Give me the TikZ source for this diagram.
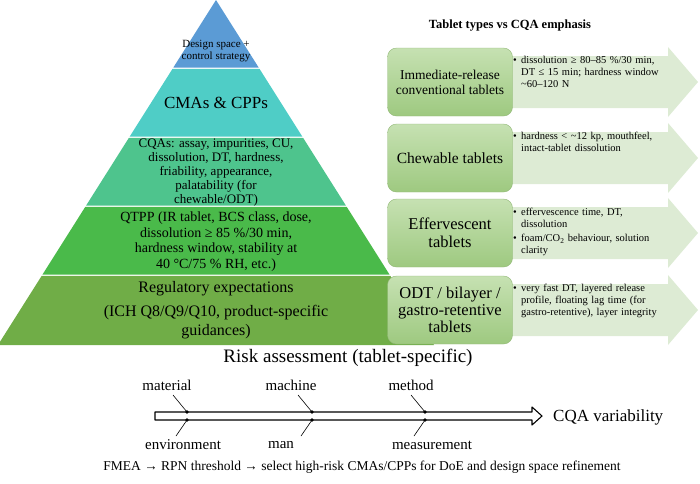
\documentclass[tikz,border=0pt]{standalone}
\usepackage{fontspec}
\setmainfont{Liberation Serif}
\usetikzlibrary{calc}
\definecolor{layA}{RGB}{91,155,213}
\definecolor{layB}{RGB}{79,205,198}
\definecolor{layC}{RGB}{78,196,141}
\definecolor{layD}{RGB}{74,186,74}
\definecolor{layE}{RGB}{112,173,71}
\definecolor{boxtop}{RGB}{198,225,178}
\definecolor{boxbot}{RGB}{158,201,128}
\definecolor{boxline}{RGB}{145,183,118}
\definecolor{arrowc}{RGB}{221,235,212}
\newcommand\fs[2]{\fontsize{#1}{#2}\selectfont}
\newcommand\bul[1]{\hangindent=8pt\hangafter=1\noindent\makebox[8pt][l]{\textbullet}#1\par}
\begin{document}
\begin{tikzpicture}[x=1pt,y=-1pt, line join=round, >=stealth,
	tbox/.style={draw=boxline, rounded corners=9pt, top color=boxtop, bottom color=boxbot,
		minimum width=125pt, minimum height=68pt, align=center, inner sep=2pt},
	btext/.style={anchor=north west, inner sep=0pt, text width=170pt, font=\fs{10.5}{12}},
	fish/.style={font=\fs{15}{17}, inner sep=1pt},
	spine/.style={draw, line width=1.1pt, fill=white}]
	\useasboundingbox (0,0) rectangle (700,483);
	% pyramid
	\foreach \ya/\yb/\c in {0/67.6/layA, 68.8/136.6/layB, 137.8/205.6/layC, 206.8/274.6/layD, 275.8/345/layE}
		\fill[\c] ({216-0.632*\ya},\ya)--({216+0.632*\ya},\ya)--({216+0.632*\yb},\yb)--({216-0.632*\yb},\yb)--cycle;
	\node[font=\fs{11}{12}, align=center] (ds) at (216,51) {Design space +\\control strategy};
	\node[font=\fs{17}{20}] (cm) at (216,103) {CMAs \& CPPs};
	\node[font=\fs{13}{13.8}, align=center] (cq) at (216,172.5) {CQAs: assay, impurities, CU,\\dissolution, DT, hardness,\\friability, appearance,\\palatability (for\\chewable/ODT)};
	\node[font=\fs{14}{15.6}, align=center] (qt) at (216,241.5) {QTPP (IR tablet, BCS class, dose,\\dissolution ≥ 85 \%/30 min,\\hardness window, stability at\\40 °C/75 \% RH, etc.)};
	\node[font=\fs{16}{19}, align=center] (rg) at (216,310.5) {Regulatory expectations\\[5pt](ICH Q8/Q9/Q10, product-specific\\guidances)};
	% tablet types
	\node[font=\bfseries\fs{12.5}{14}] (tt) at (510,26) {Tablet types vs CQA emphasis};
	\foreach \y in {82,158,233,310}
		\fill[arrowc] (450,\y-26)--(668,\y-26)--(668,\y-35)--(698,\y)--(668,\y+35)--(668,\y+26)--(450,\y+26)--cycle;
	\node[tbox, font=\fs{13.5}{15}] (ir) at (450,82) {Immediate-release\\conventional tablets};
	\node[tbox, font=\fs{15.5}{17}] (chew) at (450,158) {Chewable tablets};
	\node[tbox, font=\fs{16.5}{18}] (eff) at (450,233) {Effervescent\\tablets};
	\node[tbox, font=\fs{16.5}{17}] (odt) at (450,310) {ODT / bilayer /\\gastro-retentive\\tablets};
	\node[btext] (irb) at (513,56) {\bul{dissolution ≥ 80–85 \%/30 min,\newline DT ≤ 15 min; hardness window\newline \textasciitilde60–120 N}};
	\node[btext] (chewb) at (513,132) {\bul{hardness < \textasciitilde12 kp, mouthfeel,\newline intact-tablet dissolution}};
	\node[btext] (effb) at (513,208) {\bul{effervescence time, DT,\newline dissolution}\vspace{2pt}\bul{foam/CO\textsubscript{2} behaviour, solution\newline clarity}};
	\node[btext] (odtb) at (513,284) {\bul{very fast DT, layered release\newline profile, floating lag time (for\newline gastro-retentive), layer integrity}};
	% risk assessment
	\node[font=\fs{19}{21}] (ra) at (348,358) {Risk assessment (tablet-specific)};
	\coordinate (sp) at (155,416);
	\coordinate (se) at (532,416);
	\node[font=\fs{17}{19}, anchor=west, inner sep=0pt] (cqa) at (553,417) {CQA variability};
	\draw[spine] ($(sp)+(0,-4)$)--($(se)+(0,-4)$)--($(se)+(0,-9)$)--($(se)+(10,0)$)--($(se)+(0,9)$)--($(se)+(0,4)$)--($(sp)+(0,4)$)--cycle;
	\node[fish] (mat) at (167,385) {material};
	\node[fish] (mac) at (291,385) {machine};
	\node[fish] (met) at (411,385) {method};
	\node[fish] (env) at (183,445) {environment};
	\node[fish] (man) at (281,445) {man};
	\node[fish] (mea) at (432,445) {measurement};
	\foreach \x [count=\i] in {187,312,425}{
		\coordinate (up\i) at (\x,412);
		\coordinate (lo\i) at (\x,420);
		\fill (up\i) circle (1.8) (lo\i) circle (1.8);
		\draw[line width=0.6pt] ($(up\i)+(-14,-17)$)--(up\i);
		\draw[line width=0.6pt] (lo\i)--($(lo\i)+(-11,16)$);
	}
	\node[font=\fs{13.5}{15}] (fm) at (362,467) {FMEA → RPN threshold → select high-risk CMAs/CPPs for DoE and design space refinement};
\end{tikzpicture}
\end{document}
